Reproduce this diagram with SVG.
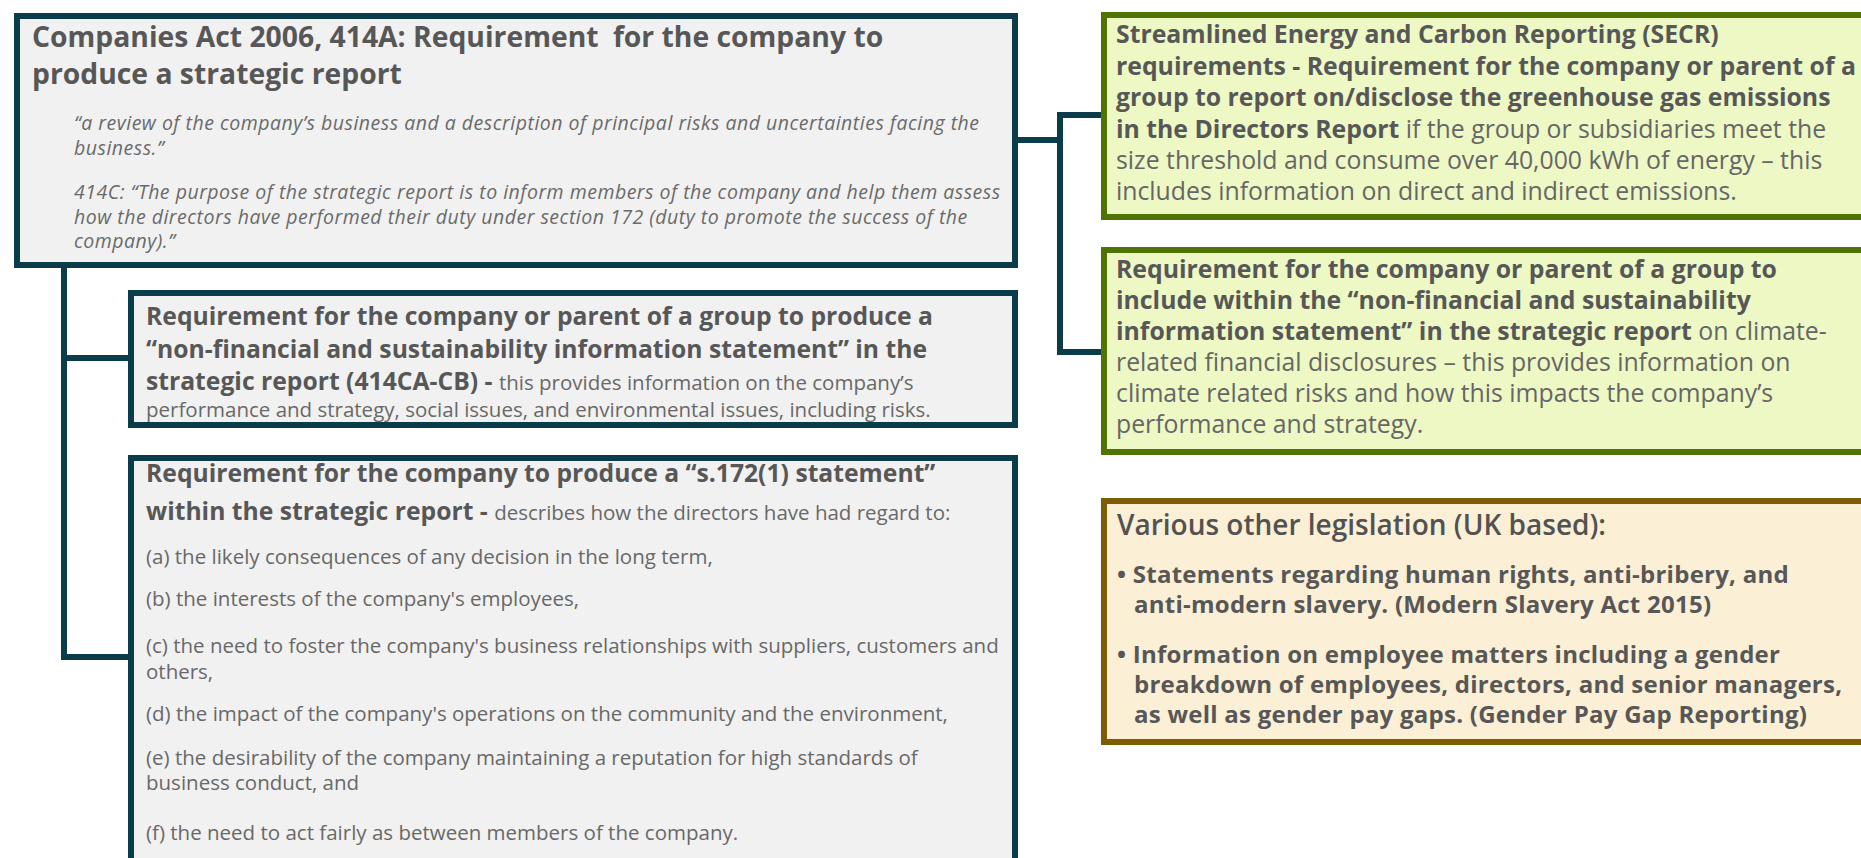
<svg xmlns="http://www.w3.org/2000/svg" width="1861" height="858" viewBox="0 0 1861 858">
  <style>
    .teal { fill: #f1f1f1; stroke: #0b3c4a; stroke-width: 6; }
    .green { fill: #edf8c5; stroke: #4f7403; stroke-width: 6; }
    .gold { fill: #fbefd5; stroke: #7d5c05; stroke-width: 6; }
    .conn { fill: none; stroke: #0b3c4a; stroke-width: 6; stroke-linejoin: miter; }
    text { font-family: "Open Sans", "Noto Sans", "Liberation Sans", sans-serif; fill: #575757; }
    .h1 { font-size: 28.3px; font-weight: 700; }
    .it { font-size: 19.5px; font-style: italic; fill: #6a6a6a; letter-spacing: 0.5px; }
    .b { font-size: 24.7px; font-weight: 700; }
    .r { font-size: 20.5px; font-weight: 400; fill: #686868; }
    .gb { font-size: 24.8px; font-weight: 700; }
    .gr { font-size: 24.8px; font-weight: 400; fill: #666; }
    .n { font-weight: 400; fill: #666; }
    .ob { font-size: 24px; font-weight: 700; letter-spacing: 0.25px; }
    .ot { font-size: 28px; font-weight: 600; fill: #525252; }
  </style>
  <rect width="1861" height="858" fill="#ffffff"/>

  <g id="connectors">
    <path class="conn" d="M64,266 V657 H131"/>
    <path class="conn" d="M64,358 H131"/>
    <path class="conn" d="M1015,140 H1060"/>
    <path class="conn" d="M1104,115 H1060 V352 H1104"/>
  </g>

  <g id="strategic-report">
    <rect class="teal" x="17" y="16" width="998" height="249"/>
    <text class="h1" x="32" y="47">Companies Act 2006, 414A: Requirement <tspan dx="7">for the company to</tspan></text>
    <text class="h1" x="32" y="84">produce a strategic report</text>
    <text class="it" x="74" y="130">“a review of the company’s business and a description of principal risks and uncertainties facing the</text>
    <text class="it" x="74" y="155">business.”</text>
    <text class="it" x="74" y="199">414C: “The purpose of the strategic report is to inform members of the company and help them assess</text>
    <text class="it" x="74" y="224">how the directors have performed their duty under section 172 (duty to promote the success of the</text>
    <text class="it" x="74" y="248">company).”</text>
  </g>

  <g id="non-financial-statement">
    <rect class="teal" x="131" y="293" width="884" height="132"/>
    <text class="b" x="146" y="325">Requirement for the company or parent of a group to produce a</text>
    <text class="b" x="146" y="358">“non-financial and sustainability information statement” in the</text>
    <text class="b" x="146" y="390">strategic report (414CA-CB) - <tspan class="r">this provides information on the company’s</tspan></text>
    <text class="r" x="146" y="417">performance and strategy, social issues, and environmental issues, including risks.</text>
  </g>

  <g id="s172-statement">
    <rect class="teal" x="131" y="458" width="884" height="420"/>
    <text class="b" x="146" y="482">Requirement for the company to produce a “s.172(1) statement”</text>
    <text class="b" x="146" y="520">within the strategic report - <tspan class="r">describes how the directors have had regard to:</tspan></text>
    <text class="r" x="146" y="564">(a) the likely consequences of any decision in the long term,</text>
    <text class="r" x="146" y="606">(b) the interests of the company's employees,</text>
    <text class="r" x="146" y="653">(c) the need to foster the company's business relationships with suppliers, customers and</text>
    <text class="r" x="146" y="679">others,</text>
    <text class="r" x="146" y="721">(d) the impact of the company's operations on the community and the environment,</text>
    <text class="r" x="146" y="765">(e) the desirability of the company maintaining a reputation for high standards of</text>
    <text class="r" x="146" y="790">business conduct, and</text>
    <text class="r" x="146" y="840">(f) the need to act fairly as between members of the company.</text>
  </g>

  <g id="secr">
    <rect class="green" x="1104" y="15" width="780" height="202"/>
    <text class="gb" x="1116" y="43">Streamlined Energy and Carbon Reporting (SECR)</text>
    <text class="gb" x="1116" y="74.5">requirements - Requirement for the company or parent of a</text>
    <text class="gb" x="1116" y="106">group to report on/disclose the greenhouse gas emissions</text>
    <text class="gb" x="1116" y="137.5">in the Directors Report<tspan class="n"> if the group or subsidiaries meet the</tspan></text>
    <text class="gr" x="1116" y="169">size threshold and consume over 40,000 kWh of energy – this</text>
    <text class="gr" x="1116" y="200">includes information on direct and indirect emissions.</text>
  </g>

  <g id="climate-disclosures">
    <rect class="green" x="1104" y="250" width="780" height="202"/>
    <text class="gb" x="1116" y="278">Requirement for the company or parent of a group to</text>
    <text class="gb" x="1116" y="309">include within the “non-financial and sustainability</text>
    <text class="gb" x="1116" y="340">information statement” in the strategic report<tspan class="n"> on climate-</tspan></text>
    <text class="gr" x="1116" y="371">related financial disclosures – this provides information on</text>
    <text class="gr" x="1116" y="402">climate related risks and how this impacts the company’s</text>
    <text class="gr" x="1116" y="433">performance and strategy.</text>
  </g>

  <g id="other-legislation">
    <rect class="gold" x="1104" y="501" width="780" height="241"/>
    <text class="ot" x="1117" y="535">Various other legislation (UK based):</text>
    <text class="ob" x="1117" y="583">• Statements regarding human rights, anti-bribery, and</text>
    <text class="ob" x="1134" y="613">anti-modern slavery. (Modern Slavery Act 2015)</text>
    <text class="ob" x="1117" y="663">• Information on employee matters including a gender</text>
    <text class="ob" x="1134" y="693">breakdown of employees, directors, and senior managers,</text>
    <text class="ob" x="1134" y="723">as well as gender pay gaps. (Gender Pay Gap Reporting)</text>
  </g>
</svg>
